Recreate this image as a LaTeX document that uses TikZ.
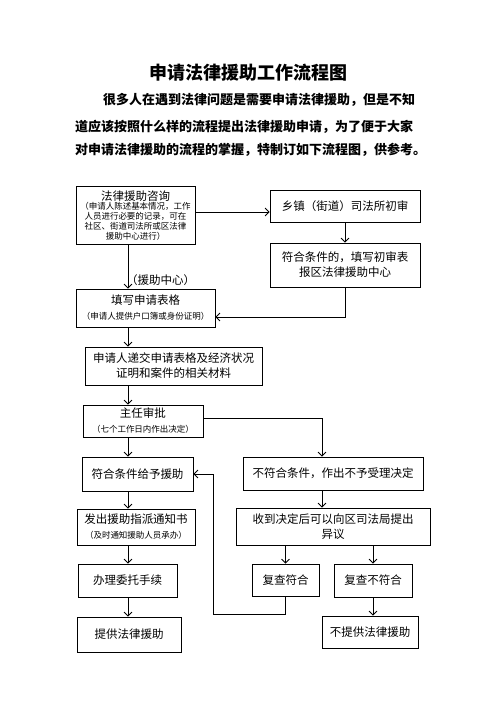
\documentclass[tikz,border=0pt]{standalone}
\usepackage{fontspec}
\setmainfont{Noto Sans CJK SC}
\usetikzlibrary{arrows.meta,calc}
\newcommand\notesize{\fontsize{8.5}{10}\selectfont}

\begin{document}
\begin{tikzpicture}
  [x=1pt, y=-1pt,
   box/.style={draw, line width=0.8pt, align=center, inner sep=0pt,
               font=\fontsize{11.5}{15}\selectfont},
   para/.style={anchor=west, inner sep=0pt, font=\fontsize{13}{15}\selectfont\bfseries},
   arr/.style={-{Straight Barb[length=4pt,width=8pt]}, line width=0.8pt}]
  \useasboundingbox (0,0) rectangle (496,702);

  % title and introduction
  \node[font=\fontsize{18}{20}\selectfont\bfseries] (title) at (248,73) {申请法律援助工作流程图};
  \node[para] (intro1) at (103,100) {很多人在遇到法律问题是需要申请法律援助，但是不知};
  \node[para] (intro2) at (75,127) {道应该按照什么样的流程提出法律援助申请，为了便于大家};
  \node[para] (intro3) at (75,150) {对申请法律援助的流程的掌握，特制订如下流程图，供参考。};

  \coordinate (spine) at (128,0);
  \coordinate (rspine) at (322,0);
  \coordinate (back) at (213,614);

  % boxes
  \node[box, minimum width=119, minimum height=58] (consult) at (135.5,215) {};
  \node[font=\fontsize{11.5}{15}\selectfont, inner sep=0pt] (consulttitle) at (135.5,196.5) {法律援助咨询};
  \node[font=\notesize, align=center, inner sep=0pt, anchor=north] (consultnote) at (135.5,202)
    {（申请人陈述基本情况，工作\\人员进行必要的记录，可在\\社区、街道司法所或区法律\\援助中心进行）};
  \node[box, minimum width=150, minimum height=32] (town) at (345,206) {乡镇（街道）司法所初审};
  \node[box, minimum width=150, minimum height=44] (qualify) at (345,265) {符合条件的，填写初审表\\报区法律援助中心};
  \node[box, minimum width=139, minimum height=38] (fill) at (145.5,308)
    {填写申请表格\\ {\notesize（申请人提供户口簿或身份证明）}};
  \node[box, minimum width=177, minimum height=38] (submit) at (173.5,366) {申请人递交申请表格及经济状况\\证明和案件的相关材料};
  \node[box, minimum width=120, minimum height=32] (director) at (143,421)
    {主任审批\\ {\notesize（七个工作日内作出决定）}};
  \node[box, minimum width=111, minimum height=34] (grant) at (137.5,474) {符合条件给予援助};
  \node[box, minimum width=180, minimum height=33] (reject) at (333,473.5) {不符合条件，作出不予受理决定};
  \node[box, minimum width=118, minimum height=36] (notice) at (136,527)
    {发出援助指派通知书\\ {\notesize（及时通知援助人员承办）}};
  \node[box, minimum width=194, minimum height=37] (objection) at (333,526.5) {收到决定后可以向区司法局提出\\异议};
  \node[box, minimum width=99, minimum height=33] (entrust) at (127.5,580.5) {办理委托手续};
  \node[box, minimum width=67, minimum height=32] (reviewok) at (285.5,580) {复查符合};
  \node[box, minimum width=78, minimum height=33] (reviewno) at (373,580.5) {复查不符合};
  \node[box, minimum width=104, minimum height=35] (provide) at (129,634.5) {提供法律援助};
  \node[box, minimum width=96, minimum height=32] (noprovide) at (370,632) {不提供法律援助};

  % connectors
  \draw[arr] ($(consult.east)+(0,-3)$) -- ($(town.west)+(0,6)$);
  \draw[arr] (town) -- (qualify);
  \draw[arr] (consult.south -| spine) -- (fill.north -| spine);
  \node[anchor=west, inner sep=0pt, font=\fontsize{11.5}{15}\selectfont] (via) at (126,280) {（援助中心）};
  \draw[arr] (qualify.south) |- ($(fill.east)+(0,9)$);
  \draw[arr] (fill.south -| spine) -- (submit.north -| spine);
  \draw[arr] (submit.south -| spine) -- (director.north -| spine);
  \draw[arr] (director.south -| spine) -- (grant.north -| spine);
  \draw[arr] ($(director.east)+(0,-3)$) -| (reject.north -| rspine);
  \draw[arr] (grant.south -| spine) -- (notice.north -| spine);
  \draw[arr] (notice.south -| spine) -- (entrust.north -| spine);
  \draw[arr] (entrust.south -| spine) -- (provide.north -| spine);
  \draw[arr] (reject.south -| rspine) -- (objection.north -| rspine);
  \draw[arr] (objection.south -| reviewok.north) -- (reviewok);
  \draw[arr] (objection.south -| reviewno.north) -- (reviewno);
  \draw[arr] (reviewok.south) |- (back) |- (grant.east);
  \draw[arr] (reviewno.south) -- (reviewno.south |- noprovide.north);
\end{tikzpicture}
\end{document}
